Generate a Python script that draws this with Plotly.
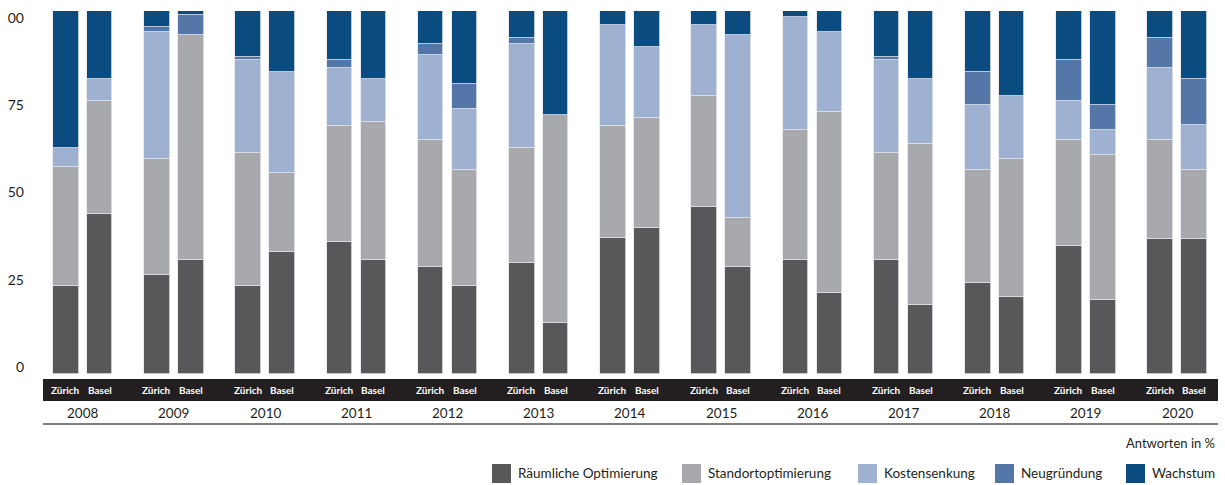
import plotly.graph_objects as go

years = ["2008", "2009", "2010", "2011", "2012", "2013", "2014",
         "2015", "2016", "2017", "2018", "2019", "2020"]
cities = ["Zürich", "Basel"]
series_names = ["Räumliche Optimierung", "Standortoptimierung", "Kostensenkung",
                "Neugründung", "Wachstum"]

# values per bar, ordered (year, city): Zürich, Basel, Zürich, Basel, ...
raeumliche = [24.2, 44.2, 27.2, 31.3, 24.2, 33.7, 36.3, 31.3, 29.5, 24.2, 30.6, 14.0,
              37.4, 40.1, 46.0, 29.4, 31.3, 22.4, 31.3, 19.1, 25.1, 21.1, 35.3, 20.4,
              37.1, 37.1]
standort = [32.9, 30.9, 31.9, 62.2, 36.6, 21.7, 32.0, 38.1, 35.1, 31.9, 31.7, 57.4,
            30.9, 30.4, 30.5, 13.7, 36.0, 49.7, 29.5, 44.2, 31.0, 38.0, 29.3, 39.8,
            27.5, 19.0]
kosten = [5.1, 6.2, 35.1, 0, 25.6, 27.9, 16.0, 11.9, 23.4, 17.0, 28.5, 0,
          27.9, 19.6, 19.7, 50.4, 31.0, 22.0, 25.6, 18.0, 18.0, 17.4, 10.5, 7.1,
          19.7, 12.5]
neugruendung = [0, 0, 1.3, 5.3, 0.9, 0, 2.1, 0, 2.8, 6.9, 1.7, 0,
                0, 0, 0, 0, 0, 0, 0.8, 0, 9.2, 0, 11.3, 6.8,
                8.2, 12.7]
wachstum = [37.8, 18.7, 4.5, 1.2, 12.7, 16.7, 13.6, 18.7, 9.2, 20.0, 7.5, 28.6,
            3.8, 9.9, 3.8, 6.5, 1.7, 5.9, 12.8, 18.7, 16.7, 23.5, 13.6, 25.9,
            7.5, 18.7]
ytick_vals = [2, 26, 50, 74, 98]
ytick_text = ["0", "25", "50", "75", "00"]

series_values = [raeumliche, standort, kosten, neugruendung, wachstum]
colors = ["#58585a", "#a8a9ac", "#9eb1d1", "#5577a7", "#0b4c80"]

# layout geometry (pixels)
W, H = 1225, 485
L, R, T, B = 43, 1218, 11, 374
PW, PH = R - L, B - T
UNIT = 91.2  # px per year group
OFF = 0.186  # city offset within group
x_lo = (L - 82.75) / UNIT
x_hi = x_lo + PW / UNIT


def px_x(p):
    return (p - L) / PW


def px_y(p):
    return (B - p) / PH


xpos = []
for i, _ in enumerate(years):
    for c in cities:
        xpos.append(i - OFF if c == "Zürich" else i + OFF)

fig = go.Figure()
for name, vals, col in zip(series_names, series_values, colors):
    fig.add_trace(go.Bar(
        x=xpos, y=[v if v > 0 else None for v in vals], name=name,
        marker=dict(color=col, line=dict(color="#e3e6ec", width=0.8)),
        width=0.28, showlegend=False,
    ))

shapes = [
    dict(type="rect", xref="paper", yref="paper", x0=px_x(43), x1=px_x(1218),
         y0=px_y(401), y1=px_y(379), fillcolor="#231f20", line=dict(width=0), layer="above"),
    dict(type="line", xref="paper", yref="paper", x0=px_x(43), x1=px_x(1218),
         y0=px_y(424), y1=px_y(424), line=dict(color="#555555", width=1.5)),
]
annotations = []
for i, yr in enumerate(years):
    for c in cities:
        xv = i - OFF if c == "Zürich" else i + OFF
        annotations.append(dict(x=xv, xref="x", y=px_y(390), yref="paper", text=c,
                                showarrow=False, xanchor="center", yanchor="middle",
                                font=dict(family="Lato", size=10, color="white", weight="bold")))
    annotations.append(dict(x=i, xref="x", y=px_y(413), yref="paper", text=yr,
                            showarrow=False, xanchor="center", yanchor="middle",
                            font=dict(family="Lato", size=13.5, color="#231f20")))

annotations.append(dict(x=px_x(1217), xref="paper", y=px_y(443), yref="paper",
                        text="Antworten in %", showarrow=False, xanchor="right",
                        yanchor="middle", font=dict(family="Lato", size=13, color="#231f20")))

legend_sq_x = [492, 682, 858, 995, 1126]
for name, col, sx in zip(series_names, colors, legend_sq_x):
    shapes.append(dict(type="rect", xref="paper", yref="paper", x0=px_x(sx), x1=px_x(sx + 19),
                       y0=px_y(483), y1=px_y(464), fillcolor=col, line=dict(width=0)))
    annotations.append(dict(x=px_x(sx + 24), xref="paper", y=px_y(473), yref="paper",
                            text=name, showarrow=False, xanchor="left", yanchor="middle",
                            font=dict(family="Lato", size=13.5, color="#231f20")))

fig.update_layout(
    width=W, height=H, barmode="stack", bargap=0,
    margin=dict(l=L, r=W - R, t=T, b=H - B, pad=0),
    paper_bgcolor="white", plot_bgcolor="white",
    font=dict(family="Lato", color="#231f20"),
    shapes=shapes, annotations=annotations,
    xaxis=dict(range=[x_lo, x_hi], showticklabels=False, showgrid=False,
               zeroline=False, showline=False, ticks=""),
    yaxis=dict(range=[0, 100], tickvals=ytick_vals, ticktext=ytick_text,
               showgrid=False, zeroline=False, showline=False, ticks="",
               ticklabelstandoff=18, tickfont=dict(family="Lato", size=14, color="#231f20")),
)

fig.write_html("out.html")
